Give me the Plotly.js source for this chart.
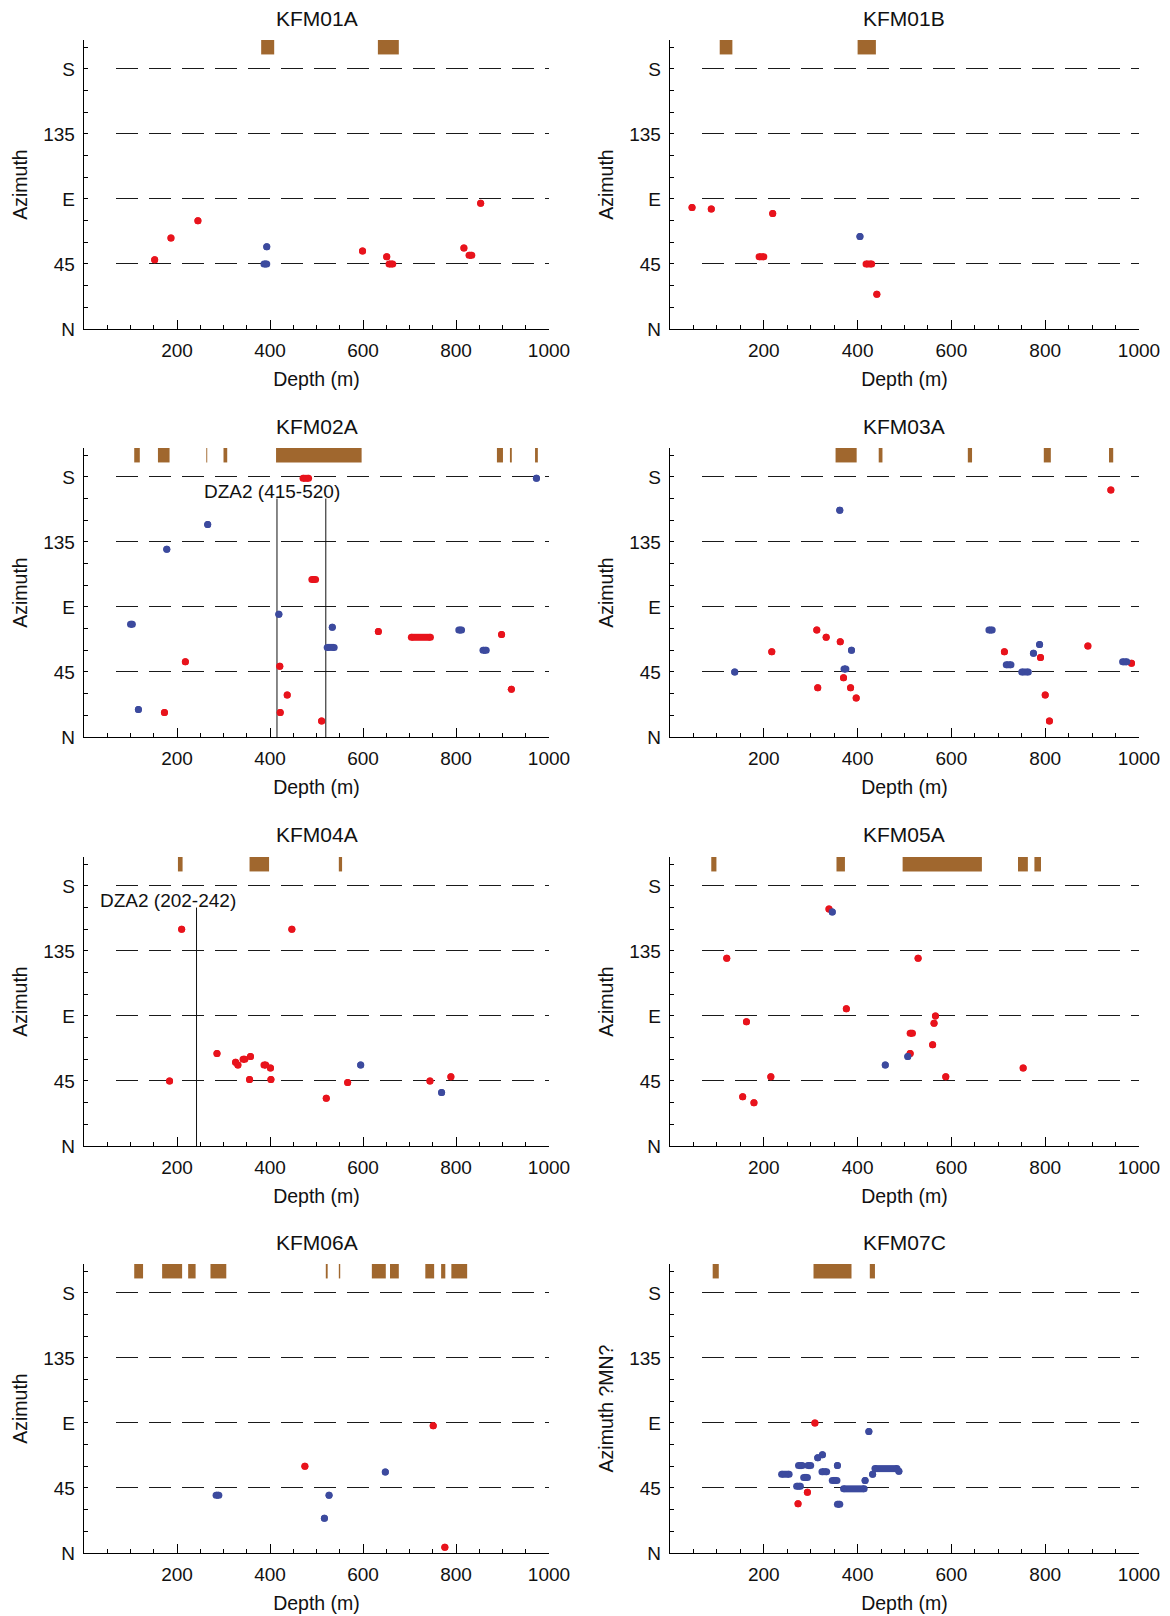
<!DOCTYPE html>
<html>
<head>
<meta charset="utf-8">
<script src="https://cdn.plot.ly/plotly-3.0.1.min.js"></script>
<style>
  html, body { margin: 0; padding: 0; background: #fff; }
  #chart { width: 1170px; height: 1616px; }
</style>
</head>
<body>
<div id="chart"></div>
<script>
// ---------- DATA ----------
// Each feature: [depth from (m), depth to (m), azimuth (deg)]
const boreholes = ['KFM01A', 'KFM01B', 'KFM02A', 'KFM03A', 'KFM04A', 'KFM05A', 'KFM06A', 'KFM07C'];

const KFM01A_red  = [[152,152,48],[187,187,63],[245,245,75],[599,599,54],[651,651,50],[656,664,45],[817,817,56],[828,834,51],[853,853,87]];
const KFM01A_blue = [[393,393,57],[387,393,45]];
const KFM01A_bars = [[381,409],[632,677]];

const KFM01B_red  = [[47,47,84],[88,88,83],[219,219,80],[190,200,50],[418,430,45],[441,441,24]];
const KFM01B_blue = [[405,405,64]];
const KFM01B_bars = [[106,133],[400,439]];

const KFM02A_red  = [[471,483,179],[490,498,109],[633,633,73],[704,745,69],[898,898,71],[218,218,52],[421,421,49],[437,437,29],[422,422,17],[173,173,17],[511,511,11],[919,919,33]];
const KFM02A_blue = [[973,973,179],[266,266,147],[178,178,130],[419,419,85],[534,534,76],[523,538,62],[100,104,78],[806,812,74],[858,865,60],[117,117,19]];
const KFM02A_bars = [[108,120],[159,184],[263,265],[300,308],[413,597],[888,901],[916,920],[970,976]];
const KFM02A_zone = [415, 520];

const KFM03A_red  = [[940,940,171],[313,313,74],[333,333,69],[363,363,66],[217,217,59],[370,370,41],[315,315,34],[385,385,34],[397,397,27],[713,713,59],[790,790,55],[800,800,29],[809,809,11],[891,891,63],[984,984,51]];
const KFM03A_blue = [[362,362,157],[138,138,45],[387,387,60],[371,375,47],[680,687,74],[788,788,64],[775,775,58],[717,727,50],[750,764,45],[965,974,52]];
const KFM03A_bars = [[353,398],[445,453],[635,644],[797,812],[936,945]];

const KFM04A_red  = [[210,210,150],[447,447,150],[286,286,64],[326,326,58],[331,331,56],[342,346,60],[358,358,62],[387,391,56],[401,401,54],[356,356,46],[402,402,46],[184,184,45],[521,521,33],[567,567,44],[744,744,45],[789,789,48]];
const KFM04A_blue = [[595,595,56],[769,769,37]];
const KFM04A_bars = [[202,212],[356,398],[548,555]];
const KFM04A_zone = [242];

const KFM05A_red  = [[339,339,164],[121,121,130],[529,529,130],[376,376,95],[163,163,86],[566,566,90],[563,563,85],[512,517,78],[560,560,70],[512,512,64],[215,215,48],[588,588,48],[753,753,54],[155,155,34],[179,179,30]];
const KFM05A_blue = [[346,346,162],[507,507,62],[459,459,56]];
const KFM05A_bars = [[88,99],[355,373],[496,665],[742,763],[777,791]];

const KFM06A_red  = [[475,475,60],[751,751,88],[776,776,4]];
const KFM06A_blue = [[284,290,40],[527,527,40],[517,517,24],[648,648,56]];
const KFM06A_bars = [[108,127],[168,211],[224,240],[272,306],[520,524],[548,551],[619,649],[658,677],[734,753],[768,777],[790,824]];

const KFM07C_red  = [[309,309,90],[293,293,42],[273,273,34]];
const KFM07C_blue = [[424,424,84],[315,315,66],[325,325,68],[274,282,60.5],[294,300,60.5],[357,357,60.5],[238,254,54.5],[324,334,56.3],[285,293,52.3],[346,356,50.2],[270,278,46.2],[370,414,44.4],[416,416,50.2],[432,432,54.5],[437,484,58.4],[488,488,56.5],[357,362,33.7]];
const KFM07C_bars = [[91,104],[306,387],[426,437]];

const zoneLabels = { KFM02A: 'DZA2 (415-520)', KFM04A: 'DZA2 (202-242)' };
const zoneLabelPos = { KFM02A: [405, 170], KFM04A: [181, 170] };
const zoneTop = 165;

const yTickVals = [0, 45, 90, 135, 180];
const yTickText = ['N', '45', 'E', '135', 'S'];
const xTickVals = [200, 400, 600, 800, 1000];
const yTitles = ['Azimuth','Azimuth','Azimuth','Azimuth','Azimuth','Azimuth','Azimuth','Azimuth ?MN?'];

const dataSets = {
  KFM01A: [KFM01A_red, KFM01A_blue, KFM01A_bars, null],
  KFM01B: [KFM01B_red, KFM01B_blue, KFM01B_bars, null],
  KFM02A: [KFM02A_red, KFM02A_blue, KFM02A_bars, KFM02A_zone],
  KFM03A: [KFM03A_red, KFM03A_blue, KFM03A_bars, null],
  KFM04A: [KFM04A_red, KFM04A_blue, KFM04A_bars, KFM04A_zone],
  KFM05A: [KFM05A_red, KFM05A_blue, KFM05A_bars, null],
  KFM06A: [KFM06A_red, KFM06A_blue, KFM06A_bars, null],
  KFM07C: [KFM07C_red, KFM07C_blue, KFM07C_bars, null]
};

// ---------- STYLE / LAYOUT ----------
const RED = '#e8131c', BLUE = '#3c4a9e', BROWN = '#a0672e';
const FONT = 'Liberation Sans, Arial, Helvetica, sans-serif';
const W = 1170, H = 1616;
const colPx = [[84, 549], [670, 1139]];
const rowPx = [[40, 329], [448, 737], [857, 1146], [1264, 1553]];

function gridDash(lenPx) {
  const parts = ['0px', '32px'];
  let acc = 32;
  while (acc < lenPx + 40) { parts.push('22.3px', '10.7px'); acc += 33; }
  return parts.join(',');
}

const traces = [];
const layout = {
  width: W, height: H,
  margin: { l: 0, r: 0, t: 0, b: 0 },
  paper_bgcolor: '#fff', plot_bgcolor: '#fff',
  showlegend: false,
  font: { family: FONT, color: '#111', size: 19 },
  annotations: [], barmode: 'overlay'
};

boreholes.forEach((name, i) => {
  const n = i + 1;
  const xs = n === 1 ? 'x' : 'x' + n;
  const ys = n === 1 ? 'y' : 'y' + n;
  const col = i % 2, row = Math.floor(i / 2);
  const xd = [colPx[col][0] / W, colPx[col][1] / W];
  const yd = [1 - rowPx[row][1] / H, 1 - rowPx[row][0] / H];
  const plotLen = colPx[col][1] - colPx[col][0];
  const [red, blue, bars, zone] = dataSets[name];

  // brown bars
  traces.push({
    type: 'bar', xaxis: xs, yaxis: ys,
    x: bars.map(b => (b[0] + b[1]) / 2),
    width: bars.map(b => b[1] - b[0]),
    y: bars.map(() => 10), base: bars.map(() => 190),
    marker: { color: BROWN, line: { width: 0 } },
    hoverinfo: 'skip', showlegend: false
  });

  // zone lines
  if (zone) {
    const zx = [], zy = [];
    zone.forEach(d => { zx.push(d, d, null); zy.push(0, zoneTop, null); });
    traces.push({ type: 'scatter', mode: 'lines', xaxis: xs, yaxis: ys, x: zx, y: zy,
      line: { color: '#111', width: 1 }, hoverinfo: 'skip', showlegend: false });
    layout.annotations.push({
      xref: xs, yref: ys, x: zoneLabelPos[name][0], y: zoneLabelPos[name][1],
      text: zoneLabels[name], showarrow: false, font: { size: 19, family: FONT, color: '#111' },
      xanchor: 'center', yanchor: 'middle', bgcolor: 'rgba(0,0,0,0)'
    });
  }

  // features
  [[red, RED], [blue, BLUE]].forEach(([list, color]) => {
    const x = [], y = [];
    list.forEach(f => { x.push(f[0], f[1], null); y.push(f[2], f[2], null); });
    traces.push({ type: 'scatter', mode: 'lines+markers', xaxis: xs, yaxis: ys, x, y,
      connectgaps: false, line: { color, width: 7 },
      marker: { color, size: 7 }, hoverinfo: 'skip', showlegend: false, cliponaxis: false });
  });

  layout['xaxis' + (n === 1 ? '' : n)] = {
    domain: xd, anchor: ys, range: [0, 1000], fixedrange: true,
    tickmode: 'array', tickvals: xTickVals, ticks: 'inside', ticklen: 9, tickwidth: 1, tickcolor: '#000',
    minor: { tickmode: 'linear', tick0: 0, dtick: 50, ticks: 'inside', ticklen: 4, tickwidth: 1, tickcolor: '#000', showgrid: false },
    showline: true, linecolor: '#000', linewidth: 1.3, showgrid: false, zeroline: false,
    tickfont: { size: 19, family: FONT, color: '#111' }, ticklabelstandoff: 4,
    title: { text: 'Depth (m)', font: { size: 19.5, family: FONT, color: '#111' }, standoff: 12 }
  };
  layout['yaxis' + (n === 1 ? '' : n)] = {
    domain: yd, anchor: xs, range: [0, 200], fixedrange: true,
    tickmode: 'array', tickvals: yTickVals, ticktext: yTickText, ticks: '',
    minor: { tickmode: 'linear', tick0: 0, dtick: 15, ticks: 'inside', ticklen: 4, tickwidth: 1, tickcolor: '#000', showgrid: false },
    showline: true, linecolor: '#000', linewidth: 1.3, zeroline: false,
    showgrid: true, gridcolor: '#1a1a1a', gridwidth: 1, griddash: gridDash(plotLen),
    tickfont: { size: 19, family: FONT, color: '#111' }, ticklabelstandoff: 4,
    title: { text: yTitles[i], font: { size: 19.5, family: FONT, color: '#111' }, standoff: 10 }
  };

  layout.annotations.push({
    xref: 'paper', yref: 'paper', x: (xd[0] + xd[1]) / 2, y: yd[1] + 22 / H,
    text: name, showarrow: false, xanchor: 'center', yanchor: 'middle',
    font: { size: 21, family: FONT, color: '#111' }
  });
});

Plotly.newPlot('chart', traces, layout, { staticPlot: true, displayModeBar: false });
</script>
</body>
</html>
